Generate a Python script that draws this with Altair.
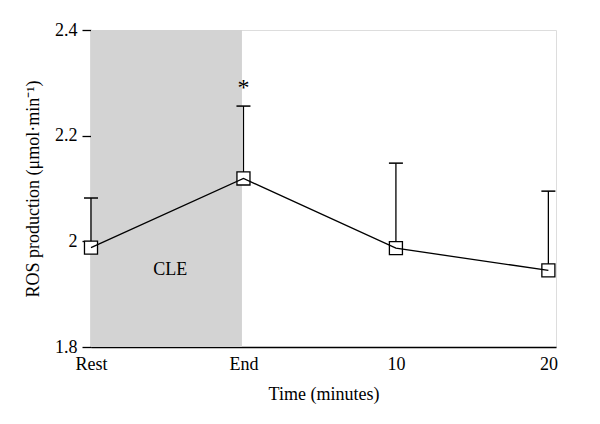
import altair as alt
import pandas as pd

# Data
labels = ["Rest", "End", "10", "20"]
xpos = [0, 1, 2, 3]
means = [1.988, 2.119, 1.987, 1.945]
uppers = [2.082, 2.256, 2.148, 2.095]

df = pd.DataFrame({"x": xpos, "label": labels, "mean": means, "upper": uppers})
shade = pd.DataFrame({"x0": [0], "x1": [0.99], "y0": [1.8], "y1": [2.4]})
texts = pd.DataFrame({"x": [0.52, 1.0], "y": [1.946, 2.29], "t": ["CLE", "*"], "s": [18, 24]})

FONT = "Liberation Serif"

xscale = alt.Scale(domain=[0, 3.05], nice=False, zero=False)
yscale = alt.Scale(domain=[1.8, 2.4], nice=False, zero=False)

xaxis = alt.Axis(
    title="Time (minutes)", values=xpos, ticks=False, grid=False, labelFlush=False,
    labelExpr="datum.value == 0 ? 'Rest' : datum.value == 1 ? 'End' : datum.value == 2 ? '10' : '20'",
    labelFont=FONT, labelFontSize=18, labelColor="black", labelPadding=8,
    titleFont=FONT, titleFontSize=18, titleFontWeight="normal", titleColor="black", titlePadding=12,
    domainColor="black", domainWidth=1.3,
)
yaxis = alt.Axis(
    title="ROS production (μmol·min⁻¹)", values=[1.8, 2.0, 2.2, 2.4], grid=False, labelFlush=False,
    labelExpr="datum.value == 2 ? '2' : format(datum.value, '.1f')",
    tickSize=9, tickColor="black", tickWidth=1.3,
    labelFont=FONT, labelFontSize=18, labelColor="black", labelPadding=5,
    titleFont=FONT, titleFontSize=18, titleFontWeight="normal", titleColor="black", titlePadding=12,
    domainColor="black", domainWidth=1.3,
)

base = alt.Chart(df)

bg = alt.Chart(shade).mark_rect(color="#d3d3d3").encode(
    x=alt.X("x0:Q", scale=xscale, axis=xaxis), x2="x1:Q",
    y=alt.Y("y0:Q", scale=yscale, axis=yaxis), y2="y1:Q",
)

rules = base.mark_rule(color="black", strokeWidth=1.3).encode(
    x=alt.X("x:Q", scale=xscale), y=alt.Y("mean:Q", scale=yscale), y2="upper:Q"
)
caps = base.mark_point(shape="M-1,0L1,0", size=196, filled=False, color="black", strokeWidth=1.5, opacity=1).encode(
    x=alt.X("x:Q", scale=xscale), y=alt.Y("upper:Q", scale=yscale)
)
squares = base.mark_point(shape="square", size=170, filled=False, fill="white", fillOpacity=1,
                          stroke="black", strokeWidth=1.3, opacity=1).encode(
    x=alt.X("x:Q", scale=xscale), y=alt.Y("mean:Q", scale=yscale)
)
line = base.mark_line(color="black", strokeWidth=1.3).encode(
    x=alt.X("x:Q", scale=xscale), y=alt.Y("mean:Q", scale=yscale)
)
txt = alt.Chart(texts).mark_text(font=FONT, color="black").encode(
    x=alt.X("x:Q", scale=xscale), y=alt.Y("y:Q", scale=yscale), text="t:N",
    size=alt.Size("s:Q", scale=None),
)

chart = alt.layer(bg, rules, caps, squares, line, txt).properties(
    width=465, height=317,
    autosize=alt.AutoSizeParams(type="none"),
    padding={"left": 83, "top": 22, "right": 30, "bottom": 60},
).configure_view(stroke=None).configure(background="white")

chart.save("out.html", embed_options={"renderer": "svg", "actions": False})
